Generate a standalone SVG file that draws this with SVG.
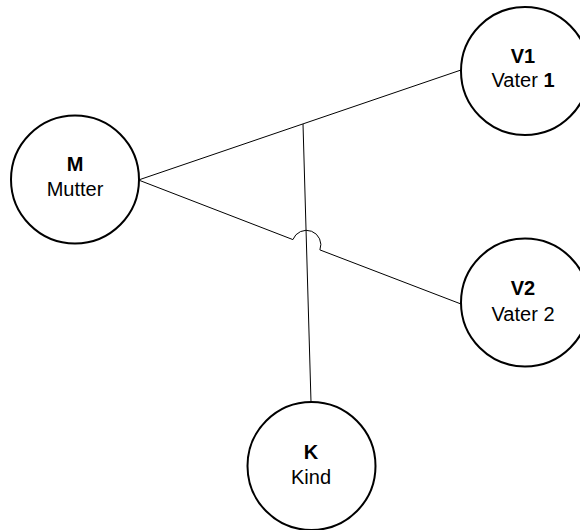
<svg xmlns="http://www.w3.org/2000/svg" width="580" height="530" viewBox="0 0 580 530">
  <style>
    .node circle { fill: #ffffff; stroke: #000000; stroke-width: 2; }
    .lbl { font-family: "Liberation Sans", Arial, sans-serif; font-size: 20px; fill: #000000; text-anchor: middle; }
    .b { font-weight: bold; }
    .edge { fill: none; stroke: #000000; stroke-width: 1; }
  </style>
  <rect width="580" height="530" fill="#ffffff"/>
  <g id="connectors">
    <path class="edge" d="M 138.5 180 L 461 70"/>
    <path class="edge" d="M 138.5 180 L 292.9 239.6 A 14.3 14.3 0 0 1 319.9 249.9 L 461 304"/>
    <path class="edge" d="M 303 124 L 311 402"/>
  </g>
  <g id="M" class="node">
    <circle cx="75" cy="179.5" r="64"/>
    <text class="lbl b" x="75" y="170.5">M</text>
    <text class="lbl" x="75" y="196">Mutter</text>
  </g>
  <g id="V1" class="node">
    <circle cx="525" cy="71" r="64"/>
    <text class="lbl b" x="523" y="62.5">V1</text>
    <text class="lbl" x="523" y="87">Vater <tspan class="b">1</tspan></text>
  </g>
  <g id="V2" class="node">
    <circle cx="525" cy="302.5" r="64"/>
    <text class="lbl b" x="523" y="295">V2</text>
    <text class="lbl" x="523" y="321">Vater 2</text>
  </g>
  <g id="K" class="node">
    <circle cx="311.5" cy="466" r="64"/>
    <text class="lbl b" x="311" y="459">K</text>
    <text class="lbl" x="311" y="484">Kind</text>
  </g>
</svg>
